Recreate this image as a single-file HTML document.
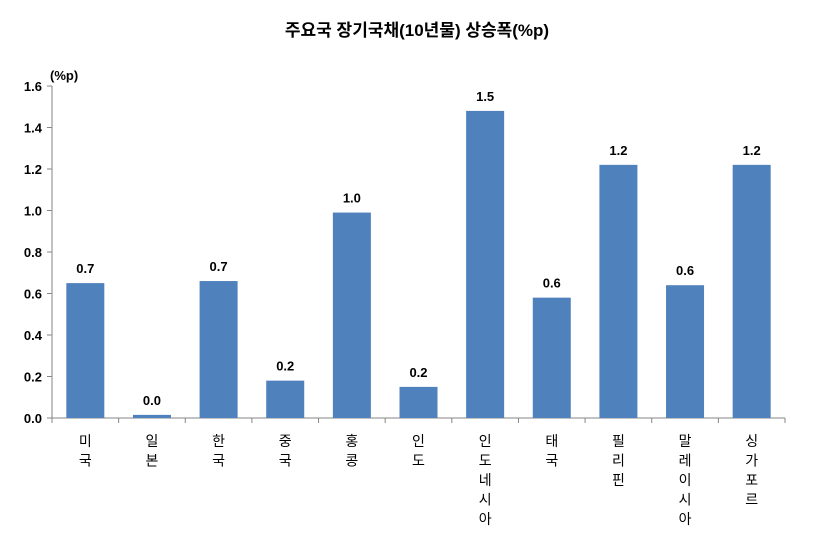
<!DOCTYPE html>
<html><head><meta charset="utf-8">
<style>
body{margin:0;background:#fff;}
svg text{font-family:"Liberation Sans","Noto Sans CJK KR",sans-serif;}
</style></head>
<body>
<svg id="chart" width="833" height="531" viewBox="0 0 833 531" xmlns="http://www.w3.org/2000/svg">
<text x="417" y="36" text-anchor="middle" font-size="17" font-weight="bold" fill="#000">주요국 장기국채(10년물) 상승폭(%p)</text>
<text x="50" y="80" font-size="13" font-weight="bold" fill="#000">(%p)</text>
<g id="axes"></g>
<g id="bars"></g>
</svg>
<script>
const categories=["미국","일본","한국","중국","홍콩","인도","인도네시아","태국","필리핀","말레이시아","싱가포르"];
const values=[0.65,0.015,0.66,0.18,0.99,0.15,1.48,0.58,1.22,0.64,1.22];
const valueLabels=["0.7","0.0","0.7","0.2","1.0","0.2","1.5","0.6","1.2","0.6","1.2"];
const yTicks=[0,0.2,0.4,0.6,0.8,1.0,1.2,1.4,1.6];
const yTickLabels=["0.0","0.2","0.4","0.6","0.8","1.0","1.2","1.4","1.6"];

const NS="http://www.w3.org/2000/svg";
const x0=52,x1=785,y0=418,y1=86,yMax=1.6;
const band=(x1-x0)/categories.length;
const yScale=v=>y0-(v/yMax)*(y0-y1);
const xCenter=i=>x0+band*(i+0.5);
function mk(tag,attrs,parent){const e=document.createElementNS(NS,tag);for(const k in attrs)e.setAttribute(k,attrs[k]);parent.appendChild(e);return e;}
const axes=document.getElementById('axes'),bars=document.getElementById('bars');

yTicks.forEach((t,i)=>{
  const y=yScale(t);
  const tk=mk('line',{x1:x0-5,x2:x0,y1:y,y2:y,stroke:'#868686'},axes);
  
  
  const lb=mk('text',{x:x0-10,y:y+5,'text-anchor':'end','font-size':'13','font-weight':'bold'},axes);
  lb.textContent=yTickLabels[i];
  
  
});
const ya=mk('line',{x1:x0,x2:x0,y1:y1,y2:y0,stroke:'#868686'},axes);


const xa=mk('line',{x1:x0,x2:x1,y1:y0,y2:y0,stroke:'#868686'},axes);


for(let i=0;i<=categories.length;i++){
  const t=mk('line',{x1:x0+band*i,x2:x0+band*i,y1:y0,y2:y0+5,stroke:'#868686'},axes);
  
  
}

categories.forEach((c,i)=>{
  const cx=xCenter(i),w=38,y=yScale(values[i]);
  const r=mk('rect',{x:cx-w/2,y:y,width:w,height:y0-y,fill:'#4F81BD'},bars);
  
  
  const vl=mk('text',{x:cx,y:y-10,'text-anchor':'middle','font-size':'13','font-weight':'bold'},bars);
  vl.textContent=valueLabels[i];
  
  
  const g=mk('text',{'font-size':'14','text-anchor':'middle'},bars);
  
  
  [...c].forEach((ch,j)=>{const s=mk('tspan',{x:cx,y:446+j*19.5},g);s.textContent=ch;});
});
</script>
</body></html>
